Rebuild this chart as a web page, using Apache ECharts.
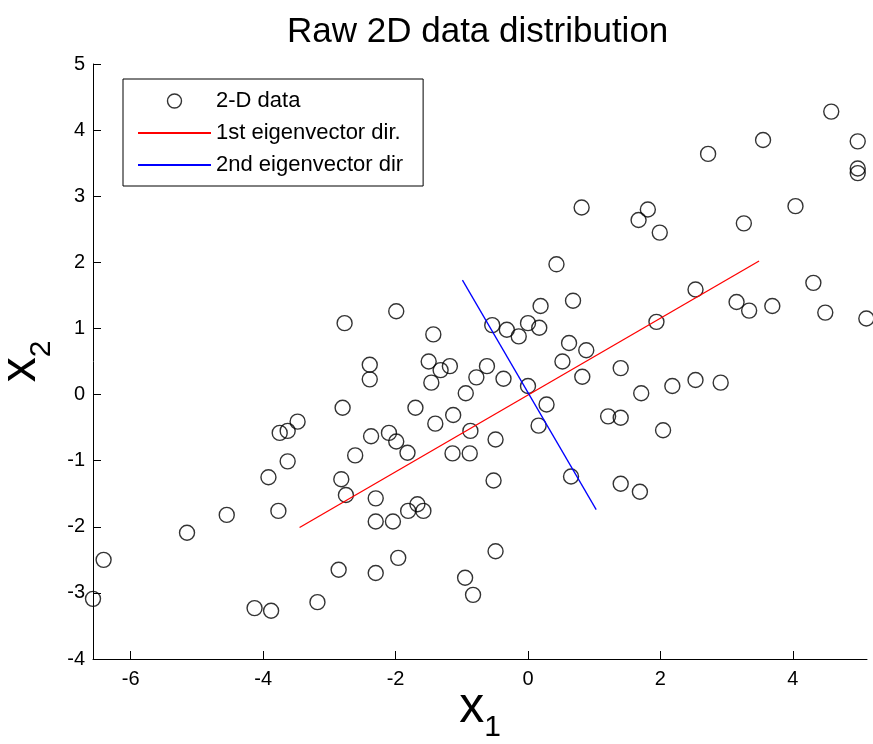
<!DOCTYPE html>
<html>
<head>
<meta charset="utf-8">
<script src="https://cdn.jsdelivr.net/npm/echarts@6/dist/echarts.min.js"></script>
<style>
    html, body { margin: 0; padding: 0; background: #fff; }
    #chart { width: 873px; height: 744px; }
</style>
</head>
<body>
<div id="chart"></div>
<script>
// ========== 数据：原始二维点 ==========
const dataX = [
    -6.57, -6.41, -5.15, -4.55, -4.13, -3.88, -3.18, -3.92, -3.77, -3.63,
    -3.75, -3.63, -3.48, -2.80, -2.37, -2.61, -2.82, -2.75, -2.30, -2.30,
    -2.86, -2.30, -1.99, -2.77, -1.43, -2.39, -2.39, -1.50, -1.32, -1.18,
    -1.46, -0.94, -0.78, -0.62, -0.37, -0.54, -0.32, -0.14, 0.00, 0.17,
    0.19, 0.00, 0.28, 0.16, -1.70, -1.13, -1.40, -0.87, -0.49, -2.10,
    -1.99, -1.82, -1.14, -0.88, -2.04, -1.81, -1.67, -1.58, -0.52, -0.49,
    -1.96, 0.81, 1.81, 1.67, 1.99, 3.26, 0.43, 2.53, 3.15, 3.34,
    0.68, 0.62, 0.88, 0.52, 0.82, 1.40, 1.94, 1.71, 2.18, 2.53,
    2.91, 1.21, 1.40, 2.04, 0.65, 1.40, 1.69, 4.58, 4.98, 4.98,
    4.98, 3.55, 2.72, 4.04, 4.31, 3.69, 4.49, 5.11, -0.95, -0.83
];
const dataY = [
    -3.09, -2.50, -2.09, -1.82, -3.23, -3.27, -3.14, -1.25, -1.76, -1.01,
    -0.58, -0.55, -0.41, -0.20, -0.63, -0.92, -1.28, -1.52, -1.57, -1.92,
    -2.65, -2.70, 1.26, 1.08, 0.91, 0.45, 0.23, 0.50, 0.37, 0.43,
    0.18, 0.02, 0.26, 0.43, 0.24, 1.05, 0.98, 0.88, 1.08, 1.01,
    1.34, 0.13, -0.15, -0.47, -0.20, -0.31, -0.44, -0.55, -0.68, -0.58,
    -0.71, -0.88, -0.89, -0.89, -1.92, -1.76, -1.66, -1.76, -1.30, -2.37,
    -2.47, 2.83, 2.80, 2.64, 2.45, 2.59, 1.97, 1.59, 1.40, 1.27,
    1.42, 0.78, 0.67, 0.50, 0.27, 0.40, 1.10, 0.02, 0.13, 0.22,
    0.18, -0.33, -0.35, -0.54, -1.24, -1.35, -1.47, 4.28, 3.83, 3.42,
    3.35, 3.85, 3.64, 2.85, 1.69, 1.34, 1.24, 1.15, -2.77, -3.03
];

// ========== 特征向量方向线段端点 ==========
const eig1X = [-3.45, 3.49];
const eig1Y = [-2.01, 2.02];
const eig2X = [-0.99, 1.03];
const eig2Y = [1.73, -1.74];

// ========== 坐标轴刻度 ==========
const xTicks = [-6, -4, -2, 0, 2, 4];
const xMin = -6.57, xMax = 5.12;
const yMin = -4, yMax = 5;

const FONT = 'Liberation Sans, Arial, sans-serif';

const zip = (xs, ys) => xs.map((x, i) => [x, ys[i]]);

// 坐标轴名称：x + 下标
const axisNameRich = {
    x: { fontSize: 50, lineHeight: 50, verticalAlign: 'top', color: '#000', fontFamily: FONT },
    s: { fontSize: 30, lineHeight: 30, verticalAlign: 'top', padding: [30, 0, 0, 0], color: '#000', fontFamily: FONT }
};

const chart = echarts.init(document.getElementById('chart'));
const option = {
    animation: false,
    backgroundColor: '#fff',
    title: {
        text: 'Raw 2D data distribution',
        left: 287,
        top: 15,
        padding: 0,
        textStyle: { fontSize: 35, fontWeight: 'normal', color: '#000', fontFamily: FONT }
    },
    legend: {
        orient: 'vertical',
        left: 123,
        top: 79,
        padding: [11, 20, 10, 14],
        itemWidth: 73,
        itemHeight: 14,
        itemGap: 10,
        borderColor: '#000',
        borderWidth: 1,
        backgroundColor: '#fff',
        textStyle: { fontSize: 22, color: '#000', fontFamily: FONT },
        data: [
            { name: '2-D data', icon: 'circle', itemStyle: { color: 'rgba(0,0,0,0)', borderColor: '#000', borderWidth: 1.4 } },
            { name: '1st eigenvector dir.', itemStyle: { opacity: 0 } },
            { name: '2nd eigenvector dir', itemStyle: { opacity: 0 } }
        ]
    },
    grid: { left: 93, right: 6, top: 64, bottom: 85, outerBoundsMode: 'none', containLabel: false },
    xAxis: {
        type: 'value',
        min: xMin,
        max: xMax,
        name: '{x|x}{s|1}',
        nameLocation: 'middle',
        nameGap: 24,
        nameMoveOverlap: false,
        nameTextStyle: { rich: axisNameRich },
        axisLine: { show: true, onZero: false, lineStyle: { color: '#000', width: 1 } },
        axisTick: { show: true, inside: true, length: 8, customValues: xTicks, lineStyle: { color: '#000' } },
        axisLabel: { customValues: xTicks, fontSize: 20, color: '#000', margin: 10, fontFamily: FONT },
        splitLine: { show: false }
    },
    yAxis: {
        type: 'value',
        min: yMin,
        max: yMax,
        interval: 1,
        name: '{x|x}{s|2}',
        nameLocation: 'middle',
        nameGap: 36,
        nameTextStyle: { rich: axisNameRich },
        axisLine: { show: true, onZero: false, lineStyle: { color: '#000', width: 1 } },
        axisTick: { show: true, inside: true, length: 8, lineStyle: { color: '#000' } },
        axisLabel: { fontSize: 20, color: '#000', margin: 8, fontFamily: FONT },
        splitLine: { show: false }
    },
    series: [
        {
            name: '2-D data',
            type: 'scatter',
            data: zip(dataX, dataY),
            symbol: 'circle',
            symbolSize: 15,
            clip: false,
            itemStyle: { color: 'rgba(0,0,0,0)', borderColor: '#000', borderWidth: 1.4 },
            emphasis: { disabled: true }
        },
        {
            name: '1st eigenvector dir.',
            type: 'line',
            data: zip(eig1X, eig1Y),
            symbol: 'none',
            lineStyle: { color: '#ff0000', width: 1.3 },
            itemStyle: { color: '#ff0000' }
        },
        {
            name: '2nd eigenvector dir',
            type: 'line',
            data: zip(eig2X, eig2Y),
            symbol: 'none',
            lineStyle: { color: '#0000ff', width: 1.3 },
            itemStyle: { color: '#0000ff' }
        }
    ]
};
chart.setOption(option);
</script>
</body>
</html>
